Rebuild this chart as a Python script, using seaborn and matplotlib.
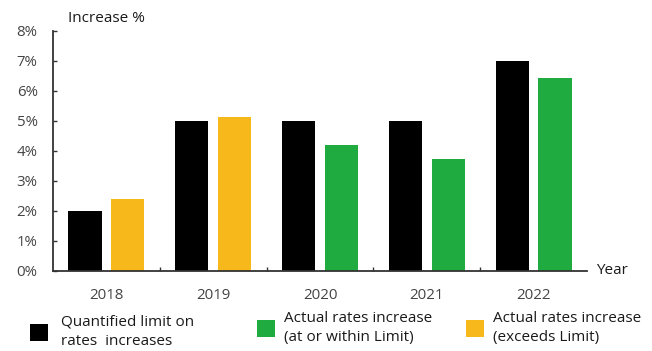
import matplotlib
matplotlib.use("Agg")
import matplotlib.pyplot as plt
from matplotlib.patches import Patch
from matplotlib.ticker import FixedLocator, FuncFormatter
import pandas as pd
import seaborn as sns

# Rate data by year (percent)
years = ["2018", "2019", "2020", "2021", "2022"]
limit_values = [2.0, 5.0, 5.0, 5.0, 7.0]
actual_values = [2.4, 5.15, 4.2, 3.75, 6.45]

series_names = ["Quantified limit on\nrates  increases",
                "Actual rates increase\n(at or within Limit)",
                "Actual rates increase\n(exceeds Limit)"]
y_ticks = [0, 1, 2, 3, 4, 5, 6, 7, 8]

BLACK = "#000000"
GREEN = "#1fab3f"
YELLOW = "#f6b81a"
AXIS = "#333333"
TEXT = "#1a1a1a"

df = pd.DataFrame({
    "year": years * 2,
    "series": ["Limit"] * len(years) + ["Actual"] * len(years),
    "value": limit_values + actual_values,
})

sns.set_theme(style="white")
plt.rcParams["font.family"] = ["Open Sans", "DejaVu Sans"]

fig = plt.figure(figsize=(6.52, 3.51), dpi=100)
ax = fig.add_axes([53 / 652, 1 - 271 / 351, (587 - 53) / 652, (271 - 31) / 351])

sns.barplot(data=df, x="year", y="value", hue="series",
            hue_order=["Limit", "Actual"], order=years,
            palette={"Limit": BLACK, "Actual": GREEN},
            width=0.8, gap=0.225, saturation=1, linewidth=0,
            legend=False, ax=ax)

# Actual bars: green when within the limit, amber when the limit is exceeded
for bar, lim, act in zip(ax.containers[1].patches, limit_values, actual_values):
    bar.set_facecolor(YELLOW if act > lim else GREEN)

ax.set_xlim(-0.5, len(years) - 0.5)
ax.set_ylim(0, 8)
ax.set_xlabel("")
ax.set_ylabel("")

ax.yaxis.set_major_locator(FixedLocator(y_ticks))
ax.yaxis.set_major_formatter(FuncFormatter(lambda v, p: f"{v:.0f}%"))
ax.tick_params(axis="y", direction="in", length=3, width=1, color=AXIS,
               labelsize=10.8, labelcolor="#444444", pad=11, left=True)
ax.set_xticks([0.5, 1.5, 2.5, 3.5], minor=True)
ax.tick_params(axis="x", which="minor", direction="in", length=3, width=1,
               color=AXIS, bottom=True)
ax.tick_params(axis="x", which="major", length=0, labelsize=10.8,
               labelcolor="#444444", pad=12)

for side in ("top", "right"):
    ax.spines[side].set_visible(False)
for side in ("left", "bottom"):
    ax.spines[side].set_color(AXIS)
    ax.spines[side].set_linewidth(1.3)

fig.text(68 / 652, 1 - 18 / 351, "Increase %", fontsize=11,
         color=TEXT, va="center", ha="left")
fig.text(596 / 652, 1 - 270 / 351, "Year", fontsize=11,
         color=TEXT, va="center", ha="left")

# Legend entries, one per series
legend_specs = [
    (series_names[0], BLACK, 30 / 652, 0.85, 332),
    (series_names[1], GREEN, 257 / 652, 0.6, 328),
    (series_names[2], YELLOW, 466 / 652, 0.55, 328),
]
for label, color, x0, pad, yc in legend_specs:
    leg = fig.legend(handles=[Patch(facecolor=color, edgecolor="none", label=label)],
                     loc="center left", bbox_to_anchor=(x0, 1 - yc / 351),
                     frameon=False, fontsize=11, handlelength=1.2,
                     handleheight=1.4, handletextpad=pad, borderpad=0,
                     borderaxespad=0)
    for t in leg.get_texts():
        t.set_color(TEXT)
        t.set_linespacing(1.4)

fig.savefig("out.png", dpi=100)
